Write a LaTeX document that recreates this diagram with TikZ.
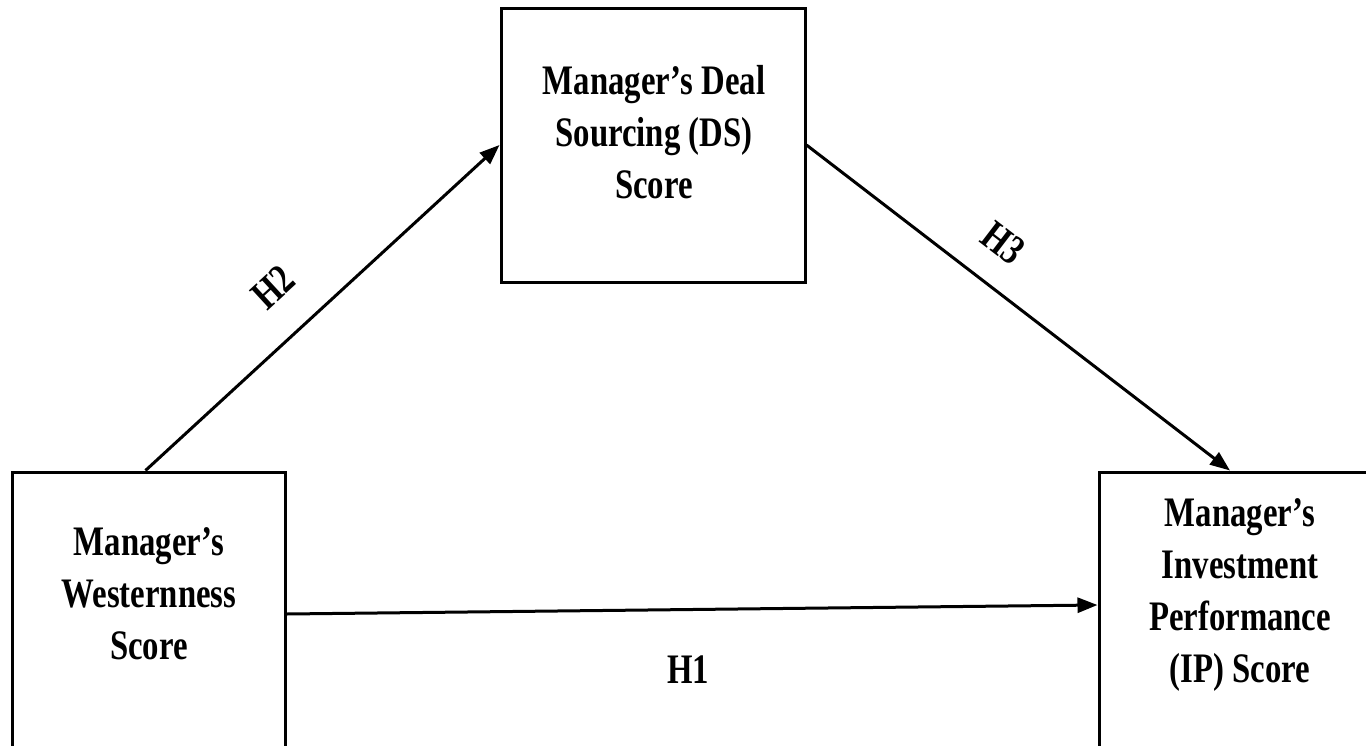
\documentclass[tikz,border=0pt]{standalone}
\usepackage{fontspec}
\setmainfont[FakeStretch=0.78]{Liberation Serif}
\usetikzlibrary{arrows.meta}
\begin{document}
\begin{tikzpicture}[x=1pt,y=-1pt,
  box/.style={draw,line width=3pt,rectangle,inner sep=0pt},
  txt/.style={font=\bfseries\fontsize{42}{52}\selectfont,align=center,inner sep=0pt},
  hyp/.style={font=\bfseries\fontsize{42}{52}\selectfont,inner sep=0pt},
  arr/.style={line width=3pt,-{Triangle[length=20pt,width=15pt]}}]
\useasboundingbox (0,0) rectangle (1366,745);
\clip (0,0) rectangle (1366,745);
\fill[white] (0,0) rectangle (1366,745);
% boxes
\node[box,minimum width=273pt,minimum height=278pt] (lb) at (148.5,611) {};
\node[box,minimum width=304pt,minimum height=274pt] (ds) at (653,145) {};
\node[box,minimum width=280pt,minimum height=278pt] (rb) at (1239,611) {};
% texts
\node[txt] (lbt) at (149,594) {Manager’s\\Westernness\\Score};
\node[txt] (dst) at (654,132) {Manager’s Deal\\Sourcing (DS)\\Score};
\node[txt] (rbt) at (1240,595) {Manager’s\\Investment\\Performance\\(IP) Score};
% connectors
\draw[arr] ([xshift=-3pt]lb.north) -- (ds.west);
\draw[arr] (ds.east) -- ([xshift=-9pt]rb.north);
\draw[arr] ([yshift=-3pt]lb.east) -- ([yshift=6pt]rb.west);
% labels
\node[hyp,rotate=42.6] (h2) at (273,287) {H2};
\node[hyp,rotate=-37.4] (h3) at (1003,243) {H3};
\node[hyp] (h1) at (688,670) {H1};
\end{tikzpicture}
\end{document}
